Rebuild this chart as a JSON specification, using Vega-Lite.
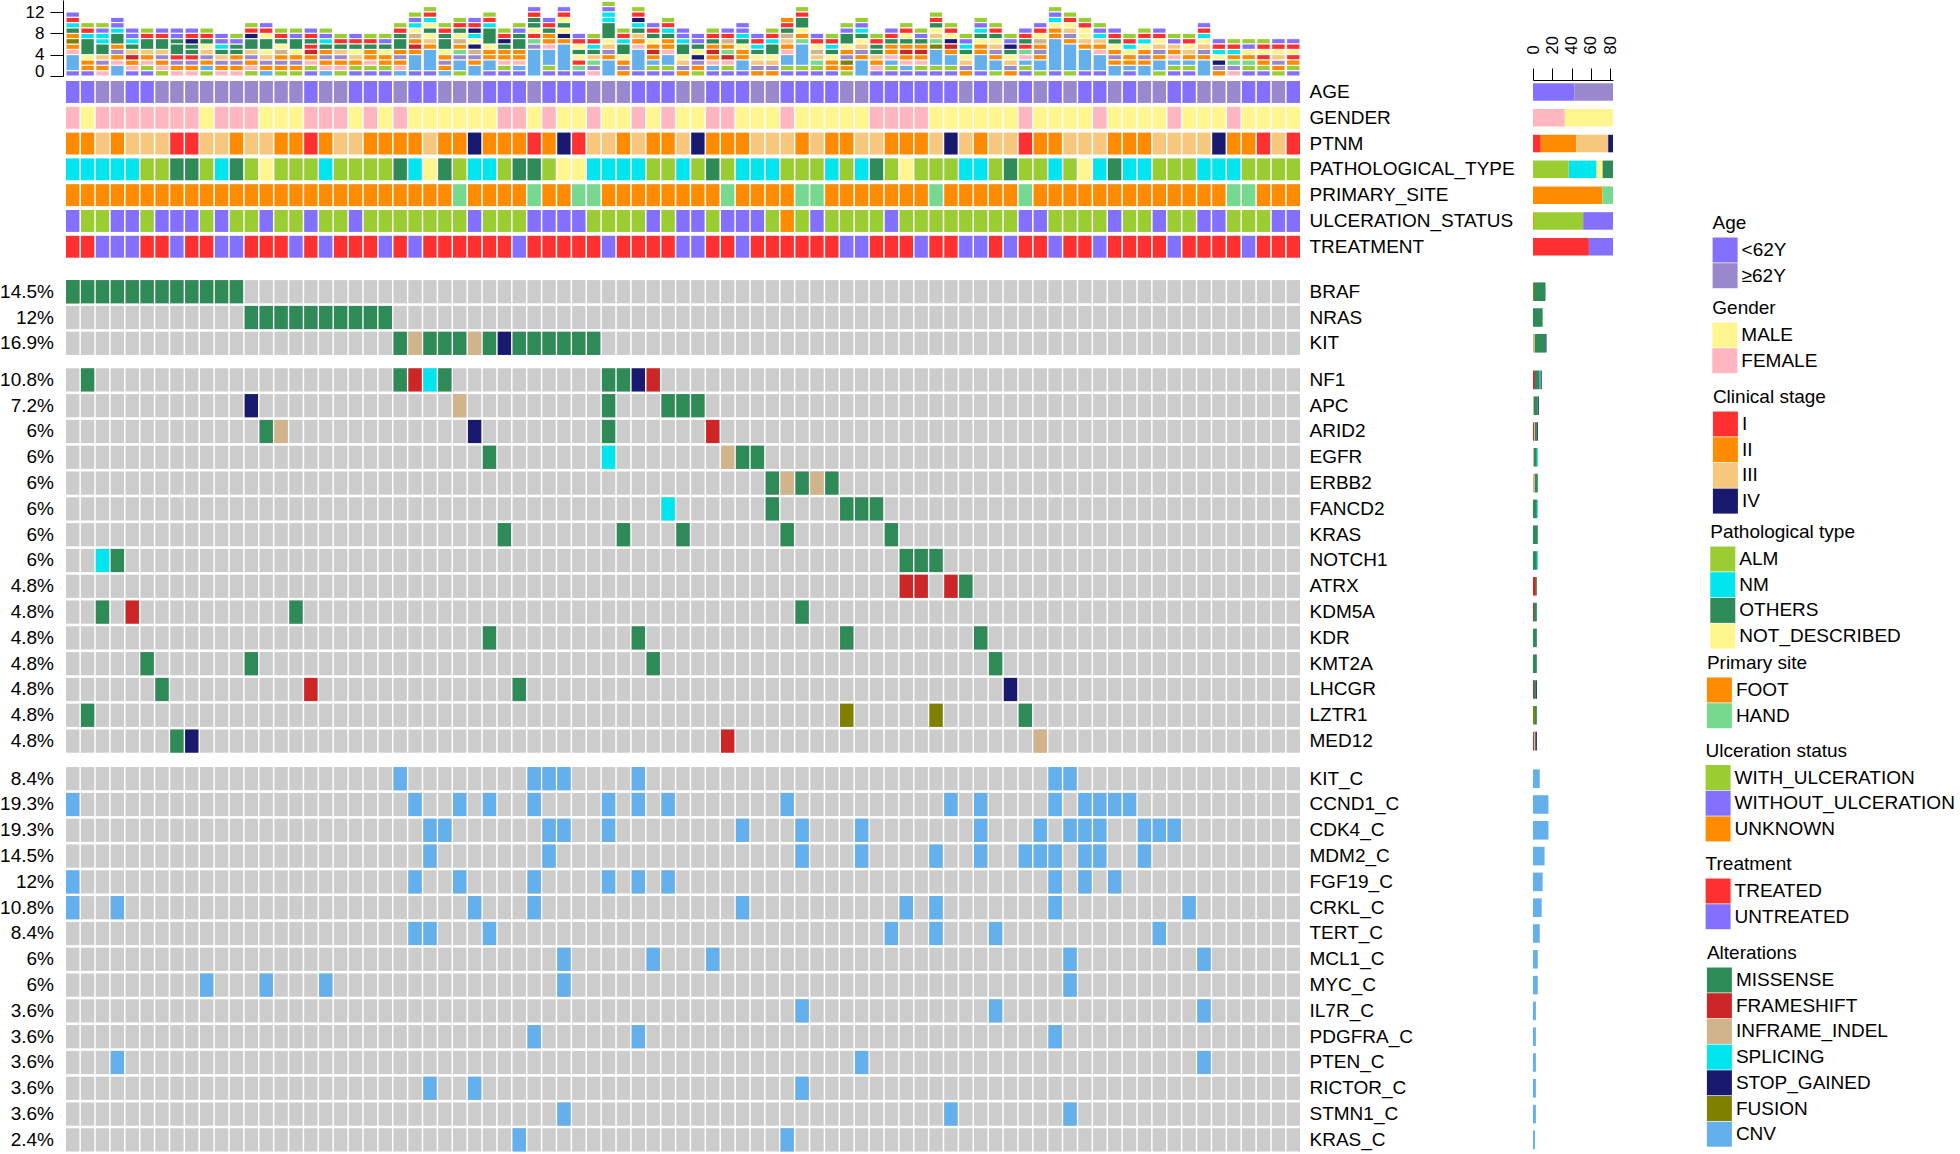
{
"$schema": "https://vega.github.io/schema/vega-lite/v6.json",
"padding": 0,
"background": "white",
"config": {
  "view": {"stroke": null},
  "font": "Liberation Sans",
  "legend": {"orient": "none", "symbolType": "square", "symbolSize": 625, "symbolStrokeWidth": 0, "symbolOpacity": 1, "labelFontSize": 19, "titleFontSize": 19, "titleFontWeight": "normal", "titlePadding": 4.5, "rowPadding": 0.7, "labelOffset": 4, "labelColor": "black", "titleColor": "black", "padding": 0, "labelLimit": 400}
},
"datasets": {
  "rank": [{"v":"<62Y","k":1},{"v":"ALM","k":2},{"v":"CNV","k":3},{"v":"FEMALE","k":4},{"v":"FOOT","k":5},{"v":"FRAMESHIFT","k":6},{"v":"FUSION","k":7},{"v":"≥62Y","k":8},{"v":"HAND","k":9},{"v":"I","k":10},{"v":"II","k":11},{"v":"III","k":12},{"v":"INFRAME_INDEL","k":13},{"v":"IV","k":14},{"v":"MALE","k":15},{"v":"MISSENSE","k":16},{"v":"NM","k":17},{"v":"NOT_DESCRIBED","k":18},{"v":"OTHERS","k":19},{"v":"SPLICING","k":20},{"v":"STOP_GAINED","k":21},{"v":"TREATED","k":22},{"v":"UNKNOWN","k":23},{"v":"UNTREATED","k":24},{"v":"WITH_ULCERATION","k":25},{"v":"WITHOUT_ULCERATION","k":26}],
  "grid": [
    {"grp": "g1", "row": ["BRAF","NRAS","KIT"], "s": [1,2,3,4,5,6,7,8,9,10,11,12,13,14,15,16,17,18,19,20,21,22,23,24,25,26,27,28,29,30,31,32,33,34,35,36,37,38,39,40,41,42,43,44,45,46,47,48,49,50,51,52,53,54,55,56,57,58,59,60,61,62,63,64,65,66,67,68,69,70,71,72,73,74,75,76,77,78,79,80,81,82,83]},
    {"grp": "g2", "row": ["NF1","APC","ARID2","EGFR","ERBB2","FANCD2","KRAS","NOTCH1","ATRX","KDM5A","KDR","KMT2A","LHCGR","LZTR1","MED12"], "s": [1,2,3,4,5,6,7,8,9,10,11,12,13,14,15,16,17,18,19,20,21,22,23,24,25,26,27,28,29,30,31,32,33,34,35,36,37,38,39,40,41,42,43,44,45,46,47,48,49,50,51,52,53,54,55,56,57,58,59,60,61,62,63,64,65,66,67,68,69,70,71,72,73,74,75,76,77,78,79,80,81,82,83]},
    {"grp": "g3", "row": ["KIT_C","CCND1_C","CDK4_C","MDM2_C","FGF19_C","CRKL_C","TERT_C","MCL1_C","MYC_C","IL7R_C","PDGFRA_C","PTEN_C","RICTOR_C","STMN1_C","KRAS_C"], "s": [1,2,3,4,5,6,7,8,9,10,11,12,13,14,15,16,17,18,19,20,21,22,23,24,25,26,27,28,29,30,31,32,33,34,35,36,37,38,39,40,41,42,43,44,45,46,47,48,49,50,51,52,53,54,55,56,57,58,59,60,61,62,63,64,65,66,67,68,69,70,71,72,73,74,75,76,77,78,79,80,81,82,83]}
  ],
  "pct": [
    {"grp": "g1", "row": "BRAF", "pct": "14.5%"},
    {"grp": "g1", "row": "NRAS", "pct": "12%"},
    {"grp": "g1", "row": "KIT", "pct": "16.9%"},
    {"grp": "g2", "row": "NF1", "pct": "10.8%"},
    {"grp": "g2", "row": "APC", "pct": "7.2%"},
    {"grp": "g2", "row": "ARID2", "pct": "6%"},
    {"grp": "g2", "row": "EGFR", "pct": "6%"},
    {"grp": "g2", "row": "ERBB2", "pct": "6%"},
    {"grp": "g2", "row": "FANCD2", "pct": "6%"},
    {"grp": "g2", "row": "KRAS", "pct": "6%"},
    {"grp": "g2", "row": "NOTCH1", "pct": "6%"},
    {"grp": "g2", "row": "ATRX", "pct": "4.8%"},
    {"grp": "g2", "row": "KDM5A", "pct": "4.8%"},
    {"grp": "g2", "row": "KDR", "pct": "4.8%"},
    {"grp": "g2", "row": "KMT2A", "pct": "4.8%"},
    {"grp": "g2", "row": "LHCGR", "pct": "4.8%"},
    {"grp": "g2", "row": "LZTR1", "pct": "4.8%"},
    {"grp": "g2", "row": "MED12", "pct": "4.8%"},
    {"grp": "g3", "row": "KIT_C", "pct": "8.4%"},
    {"grp": "g3", "row": "CCND1_C", "pct": "19.3%"},
    {"grp": "g3", "row": "CDK4_C", "pct": "19.3%"},
    {"grp": "g3", "row": "MDM2_C", "pct": "14.5%"},
    {"grp": "g3", "row": "FGF19_C", "pct": "12%"},
    {"grp": "g3", "row": "CRKL_C", "pct": "10.8%"},
    {"grp": "g3", "row": "TERT_C", "pct": "8.4%"},
    {"grp": "g3", "row": "MCL1_C", "pct": "6%"},
    {"grp": "g3", "row": "MYC_C", "pct": "6%"},
    {"grp": "g3", "row": "IL7R_C", "pct": "3.6%"},
    {"grp": "g3", "row": "PDGFRA_C", "pct": "3.6%"},
    {"grp": "g3", "row": "PTEN_C", "pct": "3.6%"},
    {"grp": "g3", "row": "RICTOR_C", "pct": "3.6%"},
    {"grp": "g3", "row": "STMN1_C", "pct": "3.6%"},
    {"grp": "g3", "row": "KRAS_C", "pct": "2.4%"}
  ],
  "cells": [
    {"grp": "clin", "row": "AGE", "s": [1,2,3,4,5,6,7,8,9,10,11,12,13,14,15,16,17,18,19,20,21,22,23,24,25,26,27,28,29,30,31,32,33,34,35,36,37,38,39,40,41,42,43,44,45,46,47,48,49,50,51,52,53,54,55,56,57,58,59,60,61,62,63,64,65,66,67,68,69,70,71,72,73,74,75,76,77,78,79,80,81,82,83],
     "v": ["<62Y","<62Y","≥62Y","≥62Y","<62Y","<62Y","≥62Y","≥62Y","≥62Y","≥62Y",
           "≥62Y","≥62Y","≥62Y","≥62Y","≥62Y","≥62Y","<62Y","≥62Y","≥62Y","<62Y",
           "<62Y","<62Y","≥62Y","<62Y","<62Y","≥62Y","≥62Y","≥62Y","<62Y","<62Y",
           "<62Y","≥62Y","<62Y","<62Y","<62Y","≥62Y","≥62Y","≥62Y","<62Y","<62Y",
           "<62Y","≥62Y","≥62Y","<62Y","<62Y","<62Y","≥62Y","≥62Y","<62Y","<62Y",
           "<62Y","<62Y","≥62Y","≥62Y","<62Y","<62Y","<62Y","<62Y","<62Y","<62Y",
           "≥62Y","<62Y","≥62Y","≥62Y","<62Y","≥62Y","<62Y","≥62Y","<62Y","<62Y",
           "≥62Y","<62Y","≥62Y","≥62Y","<62Y","<62Y","≥62Y","≥62Y","≥62Y","<62Y",
           "<62Y","≥62Y","<62Y"]},
    {"grp": "clin", "row": "GENDER", "s": [1,2,3,4,5,6,7,8,9,10,11,12,13,14,15,16,17,18,19,20,21,22,23,24,25,26,27,28,29,30,31,32,33,34,35,36,37,38,39,40,41,42,43,44,45,46,47,48,49,50,51,52,53,54,55,56,57,58,59,60,61,62,63,64,65,66,67,68,69,70,71,72,73,74,75,76,77,78,79,80,81,82,83],
     "v": ["FEMALE","MALE","FEMALE","FEMALE","FEMALE","FEMALE","FEMALE","FEMALE","FEMALE","MALE",
           "FEMALE","FEMALE","FEMALE","MALE","MALE","MALE","FEMALE","FEMALE","FEMALE","MALE",
           "FEMALE","MALE","FEMALE","MALE","MALE","MALE","MALE","MALE","MALE","FEMALE",
           "FEMALE","MALE","FEMALE","MALE","MALE","FEMALE","MALE","MALE","FEMALE","MALE",
           "FEMALE","MALE","MALE","FEMALE","FEMALE","MALE","MALE","MALE","FEMALE","MALE",
           "MALE","MALE","MALE","MALE","FEMALE","FEMALE","FEMALE","FEMALE","MALE","MALE",
           "MALE","MALE","MALE","MALE","FEMALE","MALE","MALE","MALE","MALE","FEMALE",
           "MALE","MALE","MALE","MALE","FEMALE","MALE","MALE","MALE","FEMALE","MALE",
           "MALE","MALE","MALE"]},
    {"grp": "clin", "row": "PTNM", "s": [1,2,3,4,5,6,7,8,9,10,11,12,13,14,15,16,17,18,19,20,21,22,23,24,25,26,27,28,29,30,31,32,33,34,35,36,37,38,39,40,41,42,43,44,45,46,47,48,49,50,51,52,53,54,55,56,57,58,59,60,61,62,63,64,65,66,67,68,69,70,71,72,73,74,75,76,77,78,79,80,81,82,83],
     "v": ["II","II","III","II","III","III","III","I","I","III",
           "III","II","III","III","II","II","I","II","III","III",
           "II","II","II","II","III","II","II","IV","II","II",
           "II","I","II","IV","I","III","III","II","III","II",
           "II","III","IV","II","II","II","III","III","III","II",
           "III","II","II","III","III","II","II","II","III","IV",
           "III","II","III","III","I","II","II","III","III","III",
           "II","II","II","III","III","III","III","IV","II","II",
           "I","III","I"]},
    {"grp": "clin", "row": "PATHOLOGICAL_TYPE", "s": [1,2,3,4,5,6,7,8,9,10,11,12,13,14,15,16,17,18,19,20,21,22,23,24,25,26,27,28,29,30,31,32,33,34,35,36,37,38,39,40,41,42,43,44,45,46,47,48,49,50,51,52,53,54,55,56,57,58,59,60,61,62,63,64,65,66,67,68,69,70,71,72,73,74,75,76,77,78,79,80,81,82,83],
     "v": ["NM","NM","NM","NM","NM","ALM","ALM","OTHERS","OTHERS","ALM",
           "NM","OTHERS","ALM","NOT_DESCRIBED","ALM","ALM","ALM","NM","ALM","ALM",
           "ALM","ALM","OTHERS","NM","NOT_DESCRIBED","OTHERS","ALM","NM","NM","ALM",
           "OTHERS","OTHERS","ALM","NOT_DESCRIBED","NOT_DESCRIBED","NM","NM","NM","NM","ALM",
           "ALM","NM","ALM","OTHERS","ALM","NM","NM","NM","ALM","ALM",
           "ALM","NM","ALM","NM","OTHERS","ALM","NOT_DESCRIBED","ALM","ALM","ALM",
           "NM","NM","ALM","OTHERS","ALM","ALM","NM","ALM","NOT_DESCRIBED","NM",
           "OTHERS","NM","NM","ALM","ALM","ALM","NM","NM","NM","ALM",
           "ALM","ALM","ALM"]},
    {"grp": "clin", "row": "PRIMARY_SITE", "s": [1,2,3,4,5,6,7,8,9,10,11,12,13,14,15,16,17,18,19,20,21,22,23,24,25,26,27,28,29,30,31,32,33,34,35,36,37,38,39,40,41,42,43,44,45,46,47,48,49,50,51,52,53,54,55,56,57,58,59,60,61,62,63,64,65,66,67,68,69,70,71,72,73,74,75,76,77,78,79,80,81,82,83],
     "v": ["FOOT","FOOT","FOOT","FOOT","FOOT","FOOT","FOOT","FOOT","FOOT","FOOT",
           "FOOT","FOOT","FOOT","FOOT","FOOT","FOOT","FOOT","FOOT","FOOT","FOOT",
           "FOOT","FOOT","FOOT","FOOT","FOOT","FOOT","HAND","FOOT","FOOT","FOOT",
           "FOOT","HAND","FOOT","FOOT","HAND","HAND","FOOT","FOOT","FOOT","FOOT",
           "FOOT","FOOT","FOOT","FOOT","HAND","FOOT","FOOT","FOOT","FOOT","HAND",
           "HAND","FOOT","FOOT","FOOT","FOOT","FOOT","FOOT","FOOT","HAND","FOOT",
           "FOOT","FOOT","FOOT","FOOT","HAND","FOOT","FOOT","FOOT","FOOT","FOOT",
           "FOOT","FOOT","FOOT","FOOT","FOOT","FOOT","FOOT","FOOT","HAND","HAND",
           "FOOT","FOOT","FOOT"]},
    {"grp": "clin", "row": "ULCERATION_STATUS", "s": [1,2,3,4,5,6,7,8,9,10,11,12,13,14,15,16,17,18,19,20,21,22,23,24,25,26,27,28,29,30,31,32,33,34,35,36,37,38,39,40,41,42,43,44,45,46,47,48,49,50,51,52,53,54,55,56,57,58,59,60,61,62,63,64,65,66,67,68,69,70,71,72,73,74,75,76,77,78,79,80,81,82,83],
     "v": ["WITHOUT_ULCERATION","WITH_ULCERATION","WITH_ULCERATION","WITHOUT_ULCERATION","WITHOUT_ULCERATION","WITH_ULCERATION","WITHOUT_ULCERATION","WITHOUT_ULCERATION","WITHOUT_ULCERATION","WITH_ULCERATION",
           "WITHOUT_ULCERATION","WITH_ULCERATION","WITH_ULCERATION","WITHOUT_ULCERATION","WITH_ULCERATION","WITH_ULCERATION","WITHOUT_ULCERATION","WITH_ULCERATION","WITH_ULCERATION","WITHOUT_ULCERATION",
           "WITH_ULCERATION","WITH_ULCERATION","WITH_ULCERATION","WITH_ULCERATION","WITH_ULCERATION","WITH_ULCERATION","WITH_ULCERATION","WITHOUT_ULCERATION","WITH_ULCERATION","WITH_ULCERATION",
           "WITH_ULCERATION","WITHOUT_ULCERATION","WITHOUT_ULCERATION","WITHOUT_ULCERATION","WITHOUT_ULCERATION","WITH_ULCERATION","WITH_ULCERATION","WITH_ULCERATION","WITH_ULCERATION","WITHOUT_ULCERATION",
           "WITH_ULCERATION","WITHOUT_ULCERATION","WITHOUT_ULCERATION","WITH_ULCERATION","WITHOUT_ULCERATION","WITHOUT_ULCERATION","WITHOUT_ULCERATION","WITH_ULCERATION","UNKNOWN","WITH_ULCERATION",
           "WITHOUT_ULCERATION","WITH_ULCERATION","WITH_ULCERATION","WITH_ULCERATION","WITH_ULCERATION","WITHOUT_ULCERATION","WITH_ULCERATION","WITH_ULCERATION","WITH_ULCERATION","WITH_ULCERATION",
           "WITH_ULCERATION","WITH_ULCERATION","WITH_ULCERATION","WITH_ULCERATION","WITHOUT_ULCERATION","WITHOUT_ULCERATION","WITH_ULCERATION","WITH_ULCERATION","WITH_ULCERATION","WITH_ULCERATION",
           "WITHOUT_ULCERATION","WITH_ULCERATION","WITH_ULCERATION","WITHOUT_ULCERATION","WITH_ULCERATION","WITH_ULCERATION","WITHOUT_ULCERATION","WITHOUT_ULCERATION","WITH_ULCERATION","WITH_ULCERATION",
           "WITH_ULCERATION","WITHOUT_ULCERATION","WITHOUT_ULCERATION"]},
    {"grp": "clin", "row": "TREATMENT", "s": [1,2,3,4,5,6,7,8,9,10,11,12,13,14,15,16,17,18,19,20,21,22,23,24,25,26,27,28,29,30,31,32,33,34,35,36,37,38,39,40,41,42,43,44,45,46,47,48,49,50,51,52,53,54,55,56,57,58,59,60,61,62,63,64,65,66,67,68,69,70,71,72,73,74,75,76,77,78,79,80,81,82,83],
     "v": ["TREATED","TREATED","UNTREATED","UNTREATED","UNTREATED","TREATED","TREATED","UNTREATED","TREATED","TREATED",
           "UNTREATED","UNTREATED","TREATED","TREATED","TREATED","UNTREATED","TREATED","UNTREATED","TREATED","TREATED",
           "TREATED","UNTREATED","TREATED","UNTREATED","TREATED","TREATED","TREATED","TREATED","TREATED","TREATED",
           "UNTREATED","TREATED","TREATED","TREATED","TREATED","TREATED","UNTREATED","TREATED","TREATED","TREATED",
           "TREATED","UNTREATED","UNTREATED","TREATED","TREATED","UNTREATED","TREATED","TREATED","TREATED","TREATED",
           "TREATED","TREATED","UNTREATED","UNTREATED","TREATED","TREATED","TREATED","UNTREATED","TREATED","TREATED",
           "UNTREATED","UNTREATED","TREATED","UNTREATED","TREATED","TREATED","UNTREATED","TREATED","TREATED","UNTREATED",
           "TREATED","TREATED","TREATED","TREATED","UNTREATED","TREATED","TREATED","TREATED","TREATED","UNTREATED",
           "TREATED","TREATED","TREATED"]},
    {"grp": "g1", "row": "BRAF", "s": [1,1,2,3,4,5,6,7,8,9,10,11,12], "v": ["FUSION","MISSENSE","MISSENSE","MISSENSE","MISSENSE","MISSENSE","MISSENSE","MISSENSE","MISSENSE","MISSENSE","MISSENSE","MISSENSE","MISSENSE"]},
    {"grp": "g1", "row": "NRAS", "s": [13,14,15,16,17,18,19,20,21,22], "v": ["MISSENSE","MISSENSE","MISSENSE","MISSENSE","MISSENSE","MISSENSE","MISSENSE","MISSENSE","MISSENSE","MISSENSE"]},
    {"grp": "g1", "row": "KIT", "s": [23,24,25,26,27,28,29,30,31,32,33,34,35,36], "v": ["MISSENSE","INFRAME_INDEL","MISSENSE","MISSENSE","MISSENSE","INFRAME_INDEL","MISSENSE","STOP_GAINED","MISSENSE","MISSENSE","MISSENSE","MISSENSE","MISSENSE","MISSENSE"]},
    {"grp": "g2", "row": "NF1", "s": [2,23,24,25,26,37,38,39,40], "v": ["MISSENSE","MISSENSE","FRAMESHIFT","SPLICING","MISSENSE","MISSENSE","MISSENSE","STOP_GAINED","FRAMESHIFT"]},
    {"grp": "g2", "row": "APC", "s": [13,27,37,41,42,43], "v": ["STOP_GAINED","INFRAME_INDEL","MISSENSE","MISSENSE","MISSENSE","MISSENSE"]},
    {"grp": "g2", "row": "ARID2", "s": [14,15,28,37,44], "v": ["MISSENSE","INFRAME_INDEL","STOP_GAINED","MISSENSE","FRAMESHIFT"]},
    {"grp": "g2", "row": "EGFR", "s": [29,37,45,46,47], "v": ["MISSENSE","SPLICING","INFRAME_INDEL","MISSENSE","MISSENSE"]},
    {"grp": "g2", "row": "ERBB2", "s": [48,49,50,51,52], "v": ["MISSENSE","INFRAME_INDEL","MISSENSE","INFRAME_INDEL","MISSENSE"]},
    {"grp": "g2", "row": "FANCD2", "s": [41,48,53,54,55], "v": ["SPLICING","MISSENSE","MISSENSE","MISSENSE","MISSENSE"]},
    {"grp": "g2", "row": "KRAS", "s": [30,38,42,49,56], "v": ["MISSENSE","MISSENSE","MISSENSE","MISSENSE","MISSENSE"]},
    {"grp": "g2", "row": "NOTCH1", "s": [3,4,57,58,59], "v": ["SPLICING","MISSENSE","MISSENSE","MISSENSE","MISSENSE"]},
    {"grp": "g2", "row": "ATRX", "s": [57,58,60,61], "v": ["FRAMESHIFT","FRAMESHIFT","FRAMESHIFT","MISSENSE"]},
    {"grp": "g2", "row": "KDM5A", "s": [3,5,16,50], "v": ["MISSENSE","FRAMESHIFT","MISSENSE","MISSENSE"]},
    {"grp": "g2", "row": "KDR", "s": [29,39,53,62], "v": ["MISSENSE","MISSENSE","MISSENSE","MISSENSE"]},
    {"grp": "g2", "row": "KMT2A", "s": [6,13,40,63], "v": ["MISSENSE","MISSENSE","MISSENSE","MISSENSE"]},
    {"grp": "g2", "row": "LHCGR", "s": [7,17,31,64], "v": ["MISSENSE","FRAMESHIFT","MISSENSE","STOP_GAINED"]},
    {"grp": "g2", "row": "LZTR1", "s": [2,53,59,65], "v": ["MISSENSE","FUSION","FUSION","MISSENSE"]},
    {"grp": "g2", "row": "MED12", "s": [8,9,45,66], "v": ["MISSENSE","STOP_GAINED","FRAMESHIFT","INFRAME_INDEL"]},
    {"grp": "g3", "row": "KIT_C", "s": [23,32,33,34,39,67,68], "v": ["CNV","CNV","CNV","CNV","CNV","CNV","CNV"]},
    {"grp": "g3", "row": "CCND1_C", "s": [1,24,27,29,32,37,39,41,49,60,62,67,69,70,71,72], "v": ["CNV","CNV","CNV","CNV","CNV","CNV","CNV","CNV","CNV","CNV","CNV","CNV","CNV","CNV","CNV","CNV"]},
    {"grp": "g3", "row": "CDK4_C", "s": [25,26,33,34,37,46,50,54,62,66,68,69,70,73,74,75], "v": ["CNV","CNV","CNV","CNV","CNV","CNV","CNV","CNV","CNV","CNV","CNV","CNV","CNV","CNV","CNV","CNV"]},
    {"grp": "g3", "row": "MDM2_C", "s": [25,33,50,54,59,62,65,66,67,69,70,73], "v": ["CNV","CNV","CNV","CNV","CNV","CNV","CNV","CNV","CNV","CNV","CNV","CNV"]},
    {"grp": "g3", "row": "FGF19_C", "s": [1,24,27,32,37,39,41,67,69,71], "v": ["CNV","CNV","CNV","CNV","CNV","CNV","CNV","CNV","CNV","CNV"]},
    {"grp": "g3", "row": "CRKL_C", "s": [1,4,28,32,46,57,59,67,76], "v": ["CNV","CNV","CNV","CNV","CNV","CNV","CNV","CNV","CNV"]},
    {"grp": "g3", "row": "TERT_C", "s": [24,25,29,56,59,63,74], "v": ["CNV","CNV","CNV","CNV","CNV","CNV","CNV"]},
    {"grp": "g3", "row": "MCL1_C", "s": [34,40,44,68,77], "v": ["CNV","CNV","CNV","CNV","CNV"]},
    {"grp": "g3", "row": "MYC_C", "s": [10,14,18,34,68], "v": ["CNV","CNV","CNV","CNV","CNV"]},
    {"grp": "g3", "row": "IL7R_C", "s": [50,63,77], "v": ["CNV","CNV","CNV"]},
    {"grp": "g3", "row": "PDGFRA_C", "s": [32,39,67], "v": ["CNV","CNV","CNV"]},
    {"grp": "g3", "row": "PTEN_C", "s": [4,54,77], "v": ["CNV","CNV","CNV"]},
    {"grp": "g3", "row": "RICTOR_C", "s": [25,28,50], "v": ["CNV","CNV","CNV"]},
    {"grp": "g3", "row": "STMN1_C", "s": [34,60,68], "v": ["CNV","CNV","CNV"]},
    {"grp": "g3", "row": "KRAS_C", "s": [31,49], "v": ["CNV","CNV"]}
  ]
},
"columns": 2,
"align": "each",
"spacing": 10,
"concat": [
  {
    "columns": 2,
    "align": "each",
    "spacing": {"row": 0, "column": 10},
    "concat": [
      {
        "width": 1234, "height": 76,
        "data": {"name": "cells"},
        "transform": [{"flatten": ["s", "v"]}, {"lookup": "v", "from": {"data": {"name": "rank"}, "key": "v", "fields": ["k"]}}],
        "mark": {"type": "bar", "stroke": "white", "strokeWidth": 1},
        "encoding": {
          "x": {"field": "s", "type": "ordinal", "scale": {"paddingInner": 0.1, "paddingOuter": 0}, "axis": null},
          "y": {"aggregate": "count", "type": "quantitative", "scale": {"domain": [0, 14.25], "nice": false}, "axis": {"orient": "left", "values": [0, 4, 8, 12], "offset": 3, "tickSize": 13, "labelPadding": 6, "labelFlush": true, "labelFlushOffset": 4.5, "labelOverlap": false, "title": null, "grid": false, "domainColor": "black", "tickColor": "black", "labelFontSize": 17, "labelColor": "black"}},
          "color": {"field": "v", "type": "nominal", "legend": null, "scale": {"domain": ["<62Y","≥62Y","MALE","FEMALE","I","II","III","IV","ALM","NM","OTHERS","NOT_DESCRIBED","FOOT","HAND","WITH_ULCERATION","WITHOUT_ULCERATION","UNKNOWN","TREATED","UNTREATED","MISSENSE","FRAMESHIFT","INFRAME_INDEL","SPLICING","STOP_GAINED","FUSION","CNV"], "range": ["#8470FF","#9A88CE","#FFF68F","#FFB6C1","#FF3030","#FF8C00","#F8C77E","#191970","#9ACD32","#00E5EE","#2E8B57","#FFF68F","#FF8C00","#76D98F","#9ACD32","#8470FF","#FF8C00","#FF3030","#8470FF","#2E8B57","#CD2626","#D2B48C","#00E5EE","#191970","#808000","#63B0EC"]}},
          "order": {"field": "k", "type": "quantitative", "sort": "ascending"}
        }
      },
      {
        "width": 80, "height": 76,
        "data": {"values": [{"n": 0}]},
        "mark": {"type": "point", "opacity": 0},
        "encoding": {
          "x": {"field": "n", "type": "quantitative", "scale": {"domain": [0, 83], "nice": false}, "axis": {"orient": "top", "offset": -80, "values": [0, 20, 40, 60, 80], "tickSize": 12, "labelAngle": -90, "labelPadding": 14, "title": null, "grid": false, "domainColor": "black", "tickColor": "black", "labelFontSize": 16.5, "labelColor": "black", "labelFlush": false, "labelOverlap": false}}
        }
      },
      {
        "width": 1234, "height": 176.7,
        "data": {"name": "cells"},
        "transform": [{"filter": {"field": "grp", "equal": "clin"}}, {"flatten": ["s", "v"]}],
        "mark": {"type": "rect"},
        "encoding": {
          "x": {"field": "s", "type": "ordinal", "scale": {"paddingInner": 0.1, "paddingOuter": 0}, "axis": null},
          "y": {"field": "row", "type": "nominal", "scale": {"domain": ["AGE","GENDER","PTNM","PATHOLOGICAL_TYPE","PRIMARY_SITE","ULCERATION_STATUS","TREATMENT"], "paddingInner": 0.15, "paddingOuter": 0}, "axis": {"orient": "right", "ticks": false, "tickSize": 0, "domain": false, "labelPadding": 9, "title": null, "labelFontSize": 19, "labelColor": "black", "labelLimit": 400, "grid": false}},
          "color": {"field": "v", "type": "nominal", "legend": null, "scale": {"domain": ["<62Y","≥62Y","MALE","FEMALE","I","II","III","IV","ALM","NM","OTHERS","NOT_DESCRIBED","FOOT","HAND","WITH_ULCERATION","WITHOUT_ULCERATION","UNKNOWN","TREATED","UNTREATED","MISSENSE","FRAMESHIFT","INFRAME_INDEL","SPLICING","STOP_GAINED","FUSION","CNV"], "range": ["#8470FF","#9A88CE","#FFF68F","#FFB6C1","#FF3030","#FF8C00","#F8C77E","#191970","#9ACD32","#00E5EE","#2E8B57","#FFF68F","#FF8C00","#76D98F","#9ACD32","#8470FF","#FF8C00","#FF3030","#8470FF","#2E8B57","#CD2626","#D2B48C","#00E5EE","#191970","#808000","#63B0EC"]}}
        }
      },
      {
        "width": 80, "height": 176.7,
        "data": {"name": "cells"},
        "transform": [{"filter": {"field": "grp", "equal": "clin"}}, {"flatten": ["s", "v"]}, {"lookup": "v", "from": {"data": {"name": "rank"}, "key": "v", "fields": ["k"]}}],
        "mark": {"type": "bar", "height": {"band": 0.8}},
        "encoding": {
          "y": {"field": "row", "type": "nominal", "scale": {"domain": ["AGE","GENDER","PTNM","PATHOLOGICAL_TYPE","PRIMARY_SITE","ULCERATION_STATUS","TREATMENT"], "paddingInner": 0.15, "paddingOuter": 0}, "axis": null},
          "x": {"aggregate": "count", "type": "quantitative", "scale": {"domain": [0, 83], "nice": false}, "axis": null},
          "color": {"field": "v", "type": "nominal", "legend": null, "scale": {"domain": ["<62Y","≥62Y","MALE","FEMALE","I","II","III","IV","ALM","NM","OTHERS","NOT_DESCRIBED","FOOT","HAND","WITH_ULCERATION","WITHOUT_ULCERATION","UNKNOWN","TREATED","UNTREATED","MISSENSE","FRAMESHIFT","INFRAME_INDEL","SPLICING","STOP_GAINED","FUSION","CNV"], "range": ["#8470FF","#9A88CE","#FFF68F","#FFB6C1","#FF3030","#FF8C00","#F8C77E","#191970","#9ACD32","#00E5EE","#2E8B57","#FFF68F","#FF8C00","#76D98F","#9ACD32","#8470FF","#FF8C00","#FF3030","#8470FF","#2E8B57","#CD2626","#D2B48C","#00E5EE","#191970","#808000","#63B0EC"]}},
          "order": {"field": "k", "type": "quantitative", "sort": "ascending"}
        }
      },
      {
        "width": 1234, "height": 96.92,
        "encoding": {
          "x": {"field": "s", "type": "ordinal", "scale": {"paddingInner": 0.1, "paddingOuter": 0}, "axis": null},
          "y": {"field": "row", "type": "nominal", "scale": {"domain": ["BRAF","NRAS","KIT"], "paddingInner": 0.1, "paddingOuter": 0.4283, "align": 1}, "axis": {"orient": "right", "ticks": false, "tickSize": 0, "domain": false, "labelPadding": 9, "title": null, "labelFontSize": 19, "labelColor": "black", "labelLimit": 400, "grid": false}}
        },
        "layer": [
          {"data": {"name": "grid"}, "transform": [{"filter": {"field": "grp", "equal": "g1"}}, {"flatten": ["s"]}, {"flatten": ["row"]}], "mark": {"type": "rect", "color": "#CCCCCC"}},
          {"data": {"name": "cells"}, "transform": [{"filter": {"field": "grp", "equal": "g1"}}, {"flatten": ["s", "v"]}], "mark": {"type": "rect"},
           "encoding": {"color": {"field": "v", "type": "nominal", "legend": null, "scale": {"domain": ["<62Y","≥62Y","MALE","FEMALE","I","II","III","IV","ALM","NM","OTHERS","NOT_DESCRIBED","FOOT","HAND","WITH_ULCERATION","WITHOUT_ULCERATION","UNKNOWN","TREATED","UNTREATED","MISSENSE","FRAMESHIFT","INFRAME_INDEL","SPLICING","STOP_GAINED","FUSION","CNV"], "range": ["#8470FF","#9A88CE","#FFF68F","#FFB6C1","#FF3030","#FF8C00","#F8C77E","#191970","#9ACD32","#00E5EE","#2E8B57","#FFF68F","#FF8C00","#76D98F","#9ACD32","#8470FF","#FF8C00","#FF3030","#8470FF","#2E8B57","#CD2626","#D2B48C","#00E5EE","#191970","#808000","#63B0EC"]}}}},
          {"data": {"name": "pct"}, "transform": [{"filter": {"field": "grp", "equal": "g1"}}], "mark": {"type": "text", "align": "right", "baseline": "middle", "fontSize": 19, "dx": -18.7, "color": "black"},
           "encoding": {"x": {"datum": 1, "type": "ordinal"}, "text": {"field": "pct"}}}
        ]
      },
      {
        "width": 80, "height": 96.92,
        "data": {"name": "cells"},
        "transform": [{"filter": {"field": "grp", "equal": "g1"}}, {"flatten": ["s", "v"]}, {"lookup": "v", "from": {"data": {"name": "rank"}, "key": "v", "fields": ["k"]}}],
        "mark": {"type": "bar", "height": {"band": 0.8}},
        "encoding": {
          "y": {"field": "row", "type": "nominal", "scale": {"domain": ["BRAF","NRAS","KIT"], "paddingInner": 0.1, "paddingOuter": 0.4283, "align": 1}, "axis": null},
          "x": {"aggregate": "count", "type": "quantitative", "scale": {"domain": [0, 83], "nice": false}, "axis": null},
          "color": {"field": "v", "type": "nominal", "legend": null, "scale": {"domain": ["<62Y","≥62Y","MALE","FEMALE","I","II","III","IV","ALM","NM","OTHERS","NOT_DESCRIBED","FOOT","HAND","WITH_ULCERATION","WITHOUT_ULCERATION","UNKNOWN","TREATED","UNTREATED","MISSENSE","FRAMESHIFT","INFRAME_INDEL","SPLICING","STOP_GAINED","FUSION","CNV"], "range": ["#8470FF","#9A88CE","#FFF68F","#FFB6C1","#FF3030","#FF8C00","#F8C77E","#191970","#9ACD32","#00E5EE","#2E8B57","#FFF68F","#FF8C00","#76D98F","#9ACD32","#8470FF","#FF8C00","#FF3030","#8470FF","#2E8B57","#CD2626","#D2B48C","#00E5EE","#191970","#808000","#63B0EC"]}},
          "order": {"field": "k", "type": "quantitative", "sort": "ascending"}
        }
      },
      {
        "width": 1234, "height": 397.7,
        "encoding": {
          "x": {"field": "s", "type": "ordinal", "scale": {"paddingInner": 0.1, "paddingOuter": 0}, "axis": null},
          "y": {"field": "row", "type": "nominal", "scale": {"domain": ["NF1","APC","ARID2","EGFR","ERBB2","FANCD2","KRAS","NOTCH1","ATRX","KDM5A","KDR","KMT2A","LHCGR","LZTR1","MED12"], "paddingInner": 0.1, "paddingOuter": 0.2574, "align": 1}, "axis": {"orient": "right", "ticks": false, "tickSize": 0, "domain": false, "labelPadding": 9, "title": null, "labelFontSize": 19, "labelColor": "black", "labelLimit": 400, "grid": false}}
        },
        "layer": [
          {"data": {"name": "grid"}, "transform": [{"filter": {"field": "grp", "equal": "g2"}}, {"flatten": ["s"]}, {"flatten": ["row"]}], "mark": {"type": "rect", "color": "#CCCCCC"}},
          {"data": {"name": "cells"}, "transform": [{"filter": {"field": "grp", "equal": "g2"}}, {"flatten": ["s", "v"]}], "mark": {"type": "rect"},
           "encoding": {"color": {"field": "v", "type": "nominal", "legend": null, "scale": {"domain": ["<62Y","≥62Y","MALE","FEMALE","I","II","III","IV","ALM","NM","OTHERS","NOT_DESCRIBED","FOOT","HAND","WITH_ULCERATION","WITHOUT_ULCERATION","UNKNOWN","TREATED","UNTREATED","MISSENSE","FRAMESHIFT","INFRAME_INDEL","SPLICING","STOP_GAINED","FUSION","CNV"], "range": ["#8470FF","#9A88CE","#FFF68F","#FFB6C1","#FF3030","#FF8C00","#F8C77E","#191970","#9ACD32","#00E5EE","#2E8B57","#FFF68F","#FF8C00","#76D98F","#9ACD32","#8470FF","#FF8C00","#FF3030","#8470FF","#2E8B57","#CD2626","#D2B48C","#00E5EE","#191970","#808000","#63B0EC"]}}}},
          {"data": {"name": "pct"}, "transform": [{"filter": {"field": "grp", "equal": "g2"}}], "mark": {"type": "text", "align": "right", "baseline": "middle", "fontSize": 19, "dx": -18.7, "color": "black"},
           "encoding": {"x": {"datum": 1, "type": "ordinal"}, "text": {"field": "pct"}}}
        ]
      },
      {
        "width": 80, "height": 397.7,
        "data": {"name": "cells"},
        "transform": [{"filter": {"field": "grp", "equal": "g2"}}, {"flatten": ["s", "v"]}, {"lookup": "v", "from": {"data": {"name": "rank"}, "key": "v", "fields": ["k"]}}],
        "mark": {"type": "bar", "height": {"band": 0.8}},
        "encoding": {
          "y": {"field": "row", "type": "nominal", "scale": {"domain": ["NF1","APC","ARID2","EGFR","ERBB2","FANCD2","KRAS","NOTCH1","ATRX","KDM5A","KDR","KMT2A","LHCGR","LZTR1","MED12"], "paddingInner": 0.1, "paddingOuter": 0.2574, "align": 1}, "axis": null},
          "x": {"aggregate": "count", "type": "quantitative", "scale": {"domain": [0, 83], "nice": false}, "axis": null},
          "color": {"field": "v", "type": "nominal", "legend": null, "scale": {"domain": ["<62Y","≥62Y","MALE","FEMALE","I","II","III","IV","ALM","NM","OTHERS","NOT_DESCRIBED","FOOT","HAND","WITH_ULCERATION","WITHOUT_ULCERATION","UNKNOWN","TREATED","UNTREATED","MISSENSE","FRAMESHIFT","INFRAME_INDEL","SPLICING","STOP_GAINED","FUSION","CNV"], "range": ["#8470FF","#9A88CE","#FFF68F","#FFB6C1","#FF3030","#FF8C00","#F8C77E","#191970","#9ACD32","#00E5EE","#2E8B57","#FFF68F","#FF8C00","#76D98F","#9ACD32","#8470FF","#FF8C00","#FF3030","#8470FF","#2E8B57","#CD2626","#D2B48C","#00E5EE","#191970","#808000","#63B0EC"]}},
          "order": {"field": "k", "type": "quantitative", "sort": "ascending"}
        }
      },
      {
        "width": 1234, "height": 398.5,
        "encoding": {
          "x": {"field": "s", "type": "ordinal", "scale": {"paddingInner": 0.1, "paddingOuter": 0}, "axis": null},
          "y": {"field": "row", "type": "nominal", "scale": {"domain": ["KIT_C","CCND1_C","CDK4_C","MDM2_C","FGF19_C","CRKL_C","TERT_C","MCL1_C","MYC_C","IL7R_C","PDGFRA_C","PTEN_C","RICTOR_C","STMN1_C","KRAS_C"], "paddingInner": 0.1, "paddingOuter": 0.2729, "align": 1}, "axis": {"orient": "right", "ticks": false, "tickSize": 0, "domain": false, "labelPadding": 9, "title": null, "labelFontSize": 19, "labelColor": "black", "labelLimit": 400, "grid": false}}
        },
        "layer": [
          {"data": {"name": "grid"}, "transform": [{"filter": {"field": "grp", "equal": "g3"}}, {"flatten": ["s"]}, {"flatten": ["row"]}], "mark": {"type": "rect", "color": "#CCCCCC"}},
          {"data": {"name": "cells"}, "transform": [{"filter": {"field": "grp", "equal": "g3"}}, {"flatten": ["s", "v"]}], "mark": {"type": "rect"},
           "encoding": {"color": {"field": "v", "type": "nominal", "legend": null, "scale": {"domain": ["<62Y","≥62Y","MALE","FEMALE","I","II","III","IV","ALM","NM","OTHERS","NOT_DESCRIBED","FOOT","HAND","WITH_ULCERATION","WITHOUT_ULCERATION","UNKNOWN","TREATED","UNTREATED","MISSENSE","FRAMESHIFT","INFRAME_INDEL","SPLICING","STOP_GAINED","FUSION","CNV"], "range": ["#8470FF","#9A88CE","#FFF68F","#FFB6C1","#FF3030","#FF8C00","#F8C77E","#191970","#9ACD32","#00E5EE","#2E8B57","#FFF68F","#FF8C00","#76D98F","#9ACD32","#8470FF","#FF8C00","#FF3030","#8470FF","#2E8B57","#CD2626","#D2B48C","#00E5EE","#191970","#808000","#63B0EC"]}}}},
          {"data": {"name": "pct"}, "transform": [{"filter": {"field": "grp", "equal": "g3"}}], "mark": {"type": "text", "align": "right", "baseline": "middle", "fontSize": 19, "dx": -18.7, "color": "black"},
           "encoding": {"x": {"datum": 1, "type": "ordinal"}, "text": {"field": "pct"}}}
        ]
      },
      {
        "width": 80, "height": 398.5,
        "data": {"name": "cells"},
        "transform": [{"filter": {"field": "grp", "equal": "g3"}}, {"flatten": ["s", "v"]}, {"lookup": "v", "from": {"data": {"name": "rank"}, "key": "v", "fields": ["k"]}}],
        "mark": {"type": "bar", "height": {"band": 0.8}},
        "encoding": {
          "y": {"field": "row", "type": "nominal", "scale": {"domain": ["KIT_C","CCND1_C","CDK4_C","MDM2_C","FGF19_C","CRKL_C","TERT_C","MCL1_C","MYC_C","IL7R_C","PDGFRA_C","PTEN_C","RICTOR_C","STMN1_C","KRAS_C"], "paddingInner": 0.1, "paddingOuter": 0.2729, "align": 1}, "axis": null},
          "x": {"aggregate": "count", "type": "quantitative", "scale": {"domain": [0, 83], "nice": false}, "axis": null},
          "color": {"field": "v", "type": "nominal", "legend": null, "scale": {"domain": ["<62Y","≥62Y","MALE","FEMALE","I","II","III","IV","ALM","NM","OTHERS","NOT_DESCRIBED","FOOT","HAND","WITH_ULCERATION","WITHOUT_ULCERATION","UNKNOWN","TREATED","UNTREATED","MISSENSE","FRAMESHIFT","INFRAME_INDEL","SPLICING","STOP_GAINED","FUSION","CNV"], "range": ["#8470FF","#9A88CE","#FFF68F","#FFB6C1","#FF3030","#FF8C00","#F8C77E","#191970","#9ACD32","#00E5EE","#2E8B57","#FFF68F","#FF8C00","#76D98F","#9ACD32","#8470FF","#FF8C00","#FF3030","#8470FF","#2E8B57","#CD2626","#D2B48C","#00E5EE","#191970","#808000","#63B0EC"]}},
          "order": {"field": "k", "type": "quantitative", "sort": "ascending"}
        }
      }
    ]
  },
  {
    "width": 10, "height": 10,
    "layer": [
      {"data": {"values": [{"v": "<62Y"}, {"v": "≥62Y"}]}, "mark": {"type": "square", "opacity": 0},
       "encoding": {"color": {"field": "v", "type": "nominal", "scale": {"domain": ["<62Y","≥62Y"], "range": ["#8470FF","#9A88CE"]}, "legend": {"title": "Age", "orient": "none", "legendX": 83.6, "legendY": 214, "symbolOpacity": 1}}}},
      {"data": {"values": [{"v": "MALE"}, {"v": "FEMALE"}]}, "mark": {"type": "square", "opacity": 0},
       "encoding": {"color": {"field": "v", "type": "nominal", "scale": {"domain": ["MALE","FEMALE"], "range": ["#FFF68F","#FFB6C1"]}, "legend": {"title": "Gender", "orient": "none", "legendX": 83.3, "legendY": 299, "symbolOpacity": 1}}}},
      {"data": {"values": [{"v": "I"}, {"v": "II"}, {"v": "III"}, {"v": "IV"}]}, "mark": {"type": "square", "opacity": 0},
       "encoding": {"color": {"field": "v", "type": "nominal", "scale": {"domain": ["I","II","III","IV"], "range": ["#FF3030","#FF8C00","#F8C77E","#191970"]}, "legend": {"title": "Clinical stage", "orient": "none", "legendX": 83.9, "legendY": 388, "symbolOpacity": 1}}}},
      {"data": {"values": [{"v": "ALM"}, {"v": "NM"}, {"v": "OTHERS"}, {"v": "NOT_DESCRIBED"}]}, "mark": {"type": "square", "opacity": 0},
       "encoding": {"color": {"field": "v", "type": "nominal", "scale": {"domain": ["ALM","NM","OTHERS","NOT_DESCRIBED"], "range": ["#9ACD32","#00E5EE","#2E8B57","#FFF68F"]}, "legend": {"title": "Pathological type", "orient": "none", "legendX": 81.3, "legendY": 523, "symbolOpacity": 1}}}},
      {"data": {"values": [{"v": "FOOT"}, {"v": "HAND"}]}, "mark": {"type": "square", "opacity": 0},
       "encoding": {"color": {"field": "v", "type": "nominal", "scale": {"domain": ["FOOT","HAND"], "range": ["#FF8C00","#76D98F"]}, "legend": {"title": "Primary site", "orient": "none", "legendX": 77.9, "legendY": 654, "symbolOpacity": 1}}}},
      {"data": {"values": [{"v": "WITH_ULCERATION"}, {"v": "WITHOUT_ULCERATION"}, {"v": "UNKNOWN"}]}, "mark": {"type": "square", "opacity": 0},
       "encoding": {"color": {"field": "v", "type": "nominal", "scale": {"domain": ["WITH_ULCERATION","WITHOUT_ULCERATION","UNKNOWN"], "range": ["#9ACD32","#8470FF","#FF8C00"]}, "legend": {"title": "Ulceration status", "orient": "none", "legendX": 76.6, "legendY": 741.5, "symbolOpacity": 1}}}},
      {"data": {"values": [{"v": "TREATED"}, {"v": "UNTREATED"}]}, "mark": {"type": "square", "opacity": 0},
       "encoding": {"color": {"field": "v", "type": "nominal", "scale": {"domain": ["TREATED","UNTREATED"], "range": ["#FF3030","#8470FF"]}, "legend": {"title": "Treatment", "orient": "none", "legendX": 76.6, "legendY": 855, "symbolOpacity": 1}}}},
      {"data": {"values": [{"v": "MISSENSE"}, {"v": "FRAMESHIFT"}, {"v": "INFRAME_INDEL"}, {"v": "SPLICING"}, {"v": "STOP_GAINED"}, {"v": "FUSION"}, {"v": "CNV"}]}, "mark": {"type": "square", "opacity": 0},
       "encoding": {"color": {"field": "v", "type": "nominal", "scale": {"domain": ["MISSENSE","FRAMESHIFT","INFRAME_INDEL","SPLICING","STOP_GAINED","FUSION","CNV"], "range": ["#2E8B57","#CD2626","#D2B48C","#00E5EE","#191970","#808000","#63B0EC"]}, "legend": {"title": "Alterations", "orient": "none", "legendX": 77.9, "legendY": 944, "symbolOpacity": 1}}}}
    ],
    "resolve": {"scale": {"color": "independent"}, "legend": {"color": "independent"}}
  }
]
}
